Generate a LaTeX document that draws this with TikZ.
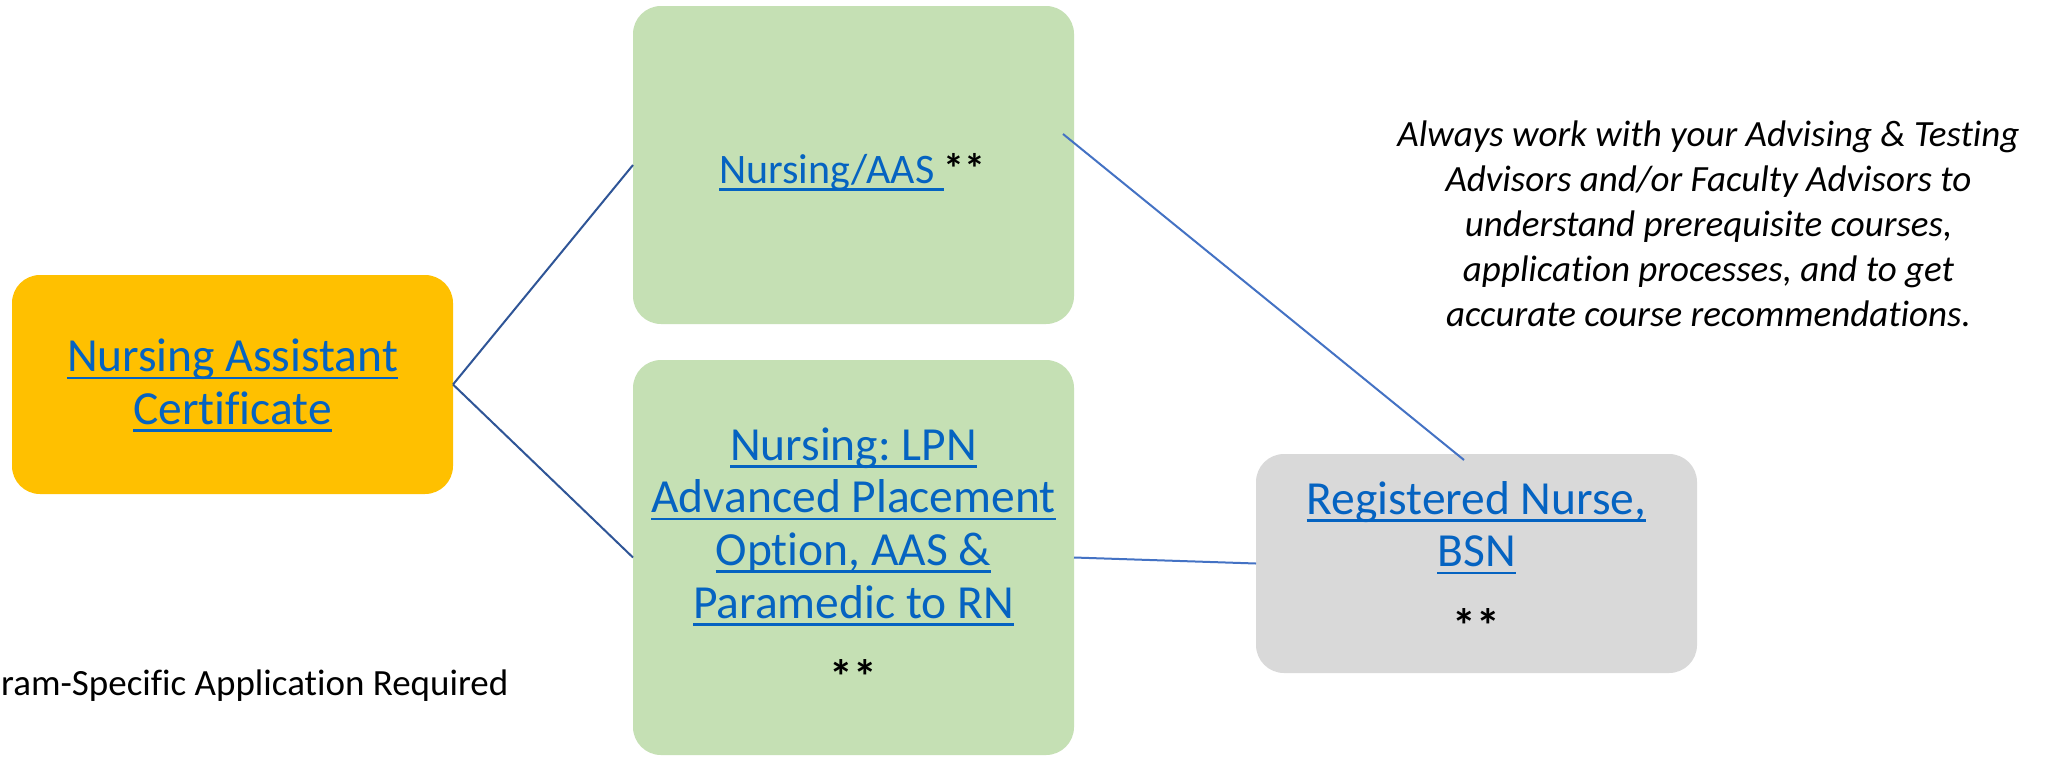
\documentclass[tikz,border=0pt]{standalone}
\usepackage{fontspec}
\setmainfont{Carlito}[Ligatures=CommonOff]
\frenchspacing
\newsavebox{\ulbox}
\newcommand{\myul}[1]{\sbox{\ulbox}{#1}\rlap{\rule[-7.5pt]{\wd\ulbox}{2.5pt}}\usebox{\ulbox}}
\definecolor{yel}{HTML}{FFC000}
\definecolor{grn}{HTML}{C5E0B4}
\definecolor{gry}{HTML}{D9D9D9}
\definecolor{link}{HTML}{0563C1}
\definecolor{lineA}{HTML}{2F5597}
\definecolor{lineB}{HTML}{4472C4}
\tikzset{
  box/.style={rounded corners=28pt, inner sep=0pt, outer sep=0pt, draw=none},
  lnk/.style={anchor=base, inner sep=0pt, text=link, font=\fontsize{47.5}{57}\selectfont},
  lnksmall/.style={anchor=base, inner sep=0pt, text=link, font=\fontsize{42}{50}\selectfont},
  star/.style={anchor=base, inner sep=0pt, text=black, font=\bfseries\fontsize{47.5}{57}\selectfont},
  note/.style={anchor=base, inner sep=0pt, text=black, font=\itshape\fontsize{37}{45}\selectfont},
  foot/.style={anchor=base west, inner sep=0pt, text=black, font=\fontsize{37}{45}\selectfont},
  connA/.style={draw=lineA, line width=2pt},
  connB/.style={draw=lineB, line width=2pt}
}
\begin{document}
\begin{tikzpicture}[x=1pt,y=-1pt]
\useasboundingbox[fill=white] (0,0) rectangle (2052,758);

% boxes
\node[box, fill=yel, minimum width=441pt, minimum height=219pt] (na) at (232.5,384.5) {};
\node[box, fill=grn, minimum width=441pt, minimum height=318pt] (aas) at (853.5,165) {};
\node[box, fill=grn, minimum width=441pt, minimum height=395pt] (lpn) at (853.5,557.5) {};
\node[box, fill=gry, minimum width=441pt, minimum height=219pt] (rn) at (1476.5,563.5) {};

% connectors
\draw[connA] (na.east) -- (aas.west);
\draw[connA] (na.east) -- (lpn.west);
\draw[connB] ([shift={(-11,-31)}]aas.east) -- ([shift={(-12.5,6)}]rn.north);
\draw[connB] (lpn.east) -- (rn.west);

% texts
\node[lnk] (na1) at (232.5,371.7) {\myul{Nursing Assistant}};
\node[lnk] (na2) at (232.5,424.3) {\myul{Certificate}};

\node[lnksmall] (aas1) at (852.5,183.3) {\myul{Nursing/AAS\ }\textcolor{black}{\bfseries **}};

\node[lnk] (lpn1) at (853.5,460) {\myul{Nursing: LPN}};
\node[lnk] (lpn2) at (853.5,512.7) {\myul{Advanced Placement}};
\node[lnk] (lpn3) at (853.5,565.3) {\myul{Option, AAS \&}};
\node[lnk] (lpn4) at (853.5,618) {\myul{Paramedic to RN}};
\node[star] (lpn5) at (853.5,693) {**};

\node[lnk] (rn1) at (1476.5,514) {\myul{Registered Nurse,}};
\node[lnk] (rn2) at (1476.5,566.7) {\myul{BSN}};
\node[star] (rn3) at (1476.5,642) {**};

\node[note] (n1) at (1708.5,146.7) {Always work with your Advising \& Testing};
\node[note] (n2) at (1708.5,191.7) {Advisors and/or Faculty Advisors to};
\node[note] (n3) at (1708.5,236.7) {understand prerequisite courses,};
\node[note] (n4) at (1708.5,281.7) {application processes, and to get};
\node[note] (n5) at (1708.5,326.7) {accurate course recommendations.};

\node[foot] (ft) at (1,695.7) {ram-Specific Application Required};
\end{tikzpicture}
\end{document}
